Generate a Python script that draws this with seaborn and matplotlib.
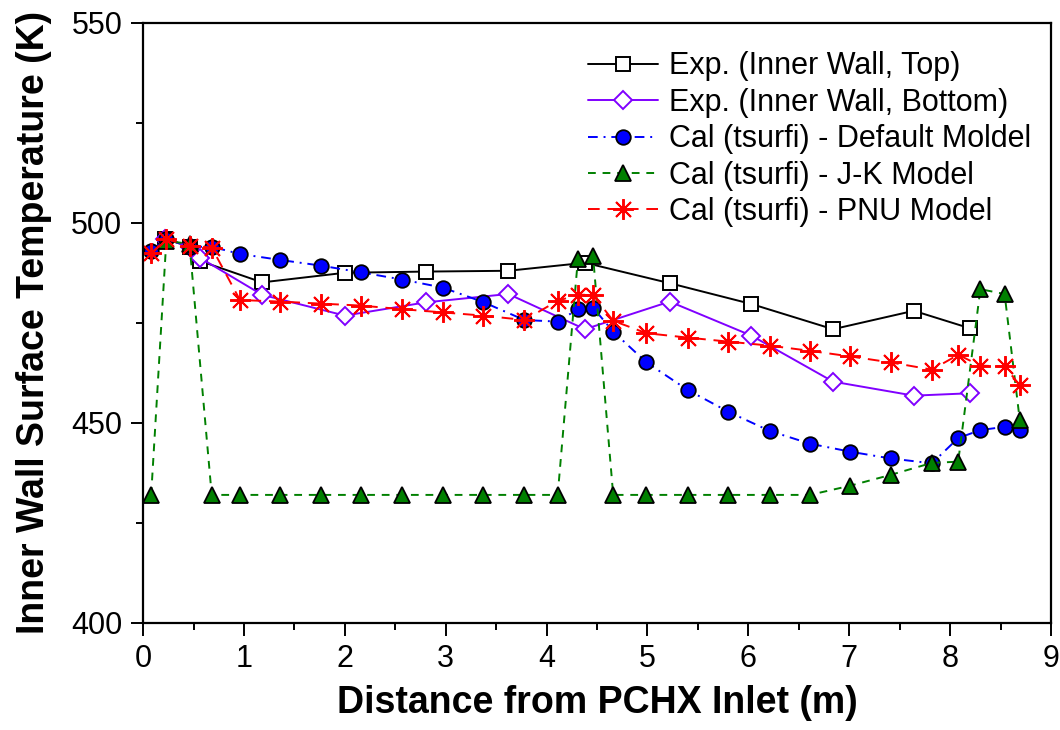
import matplotlib
matplotlib.use("Agg")
import matplotlib.pyplot as plt
import seaborn as sns
import numpy as np
from matplotlib.ticker import MultipleLocator

sns.set_theme(style="ticks")
plt.rcParams['font.family'] = ['Liberation Sans', 'DejaVu Sans']
plt.rcParams['text.color'] = 'black'
plt.rcParams['axes.labelcolor'] = 'black'
plt.rcParams['xtick.color'] = 'black'
plt.rcParams['ytick.color'] = 'black'

# Experimental positions (m)
exp_x = [0.22, 0.46, 0.56, 1.18, 2.0, 2.8, 3.62, 4.38, 5.22, 6.03, 6.84, 7.64, 8.2]
exp_top = [496, 494, 490.5, 485.1, 487.5, 487.8, 488.0, 490.0, 484.9, 479.7, 473.4, 478.0, 473.6]
exp_bottom = [496, 494, 491.3, 482.0, 476.8, 480.1, 482.2, 473.4, 480.3, 471.8, 460.3, 456.8, 457.4]

# Calculation positions (m)
cal_x = [0.08, 0.23, 0.46, 0.68, 0.96, 1.36, 1.76, 2.16, 2.57, 2.97, 3.37, 3.78,
         4.11, 4.31, 4.46, 4.66, 4.99, 5.40, 5.80, 6.21, 6.61, 7.01, 7.41, 7.82,
         8.08, 8.30, 8.54, 8.69]
cal_default = [493, 496, 494, 494, 492.2, 490.7, 489.3, 487.6, 485.8, 483.8, 480.2, 475.7,
               475.3, 478.4, 478.8, 472.8, 465.1, 458.2, 452.8, 448.0, 444.8, 442.8, 441.1, 439.9,
               446.2, 448.2, 449.0, 448.3]
cal_jk = [432, 495.5, 494.7, 432, 432, 432, 432, 432, 432, 432, 432, 432,
          432, 490.9, 491.8, 432, 432, 432, 432, 432, 432, 434.3, 437.0, 440.0,
          440.3, 483.4, 482.2, 450.8]
cal_pnu = [492.4, 495.9, 494.3, 493.8, 480.7, 480.3, 479.8, 479.3, 478.4, 477.6, 476.8, 475.7,
           480.5, 482.0, 482.0, 475.5, 472.4, 471.3, 470.3, 469.3, 468.0, 466.6, 465.1, 463.3,
           467.0, 464.3, 464.1, 459.4]

labels = ["Exp. (Inner Wall, Top)", "Exp. (Inner Wall, Bottom)",
          "Cal (tsurfi) - Default Moldel", "Cal (tsurfi) - J-K Model",
          "Cal (tsurfi) - PNU Model"]

fig, ax = plt.subplots(figsize=(10.6, 7.3), dpi=100)
fig.subplots_adjust(left=0.135, right=0.9915, top=0.969, bottom=0.1466)

lw = 1.4
sns.lineplot(x=exp_x, y=exp_top, ax=ax, sort=False, errorbar=None, color="black",
             linewidth=lw, marker="s", markersize=9.5, markerfacecolor="white",
             markeredgecolor="black", markeredgewidth=1.4, label=labels[0])
sns.lineplot(x=exp_x, y=exp_bottom, ax=ax, sort=False, errorbar=None, color="#8000ff",
             linewidth=lw, marker="D", markersize=9.5, markerfacecolor="white",
             markeredgecolor="#8000ff", markeredgewidth=1.4, label=labels[1])
sns.lineplot(x=cal_x, y=cal_default, ax=ax, sort=False, errorbar=None, color="#0000ff",
             linewidth=lw, linestyle=(0, (5, 3, 1, 3)), marker="o", markersize=10.5,
             markerfacecolor="#0000ff", markeredgecolor="black", markeredgewidth=1.3,
             label=labels[2])
sns.lineplot(x=cal_x, y=cal_jk, ax=ax, sort=False, errorbar=None, color="#008000",
             linewidth=lw, linestyle=(0, (4, 3.5)), marker="^", markersize=11.5,
             markerfacecolor="#008000", markeredgecolor="black", markeredgewidth=1.3,
             label=labels[3])
sns.lineplot(x=cal_x, y=cal_pnu, ax=ax, sort=False, errorbar=None, color="#ff0000",
             linewidth=lw, linestyle=(0, (6, 4)), marker=(8, 2, 0), markersize=15,
             markerfacecolor="#ff0000", markeredgecolor="#ff0000", markeredgewidth=1.4,
             label=labels[4])

ax.set_xlim(0, 9)
ax.set_ylim(400, 550)
ax.xaxis.set_major_locator(MultipleLocator(1))
ax.xaxis.set_minor_locator(MultipleLocator(0.5))
ax.yaxis.set_major_locator(MultipleLocator(50))
ax.yaxis.set_minor_locator(MultipleLocator(25))
ax.tick_params(which="major", direction="out", length=9, width=1.4, labelsize=22,
               colors="black", top=False, right=False, pad=6)
ax.tick_params(which="minor", direction="out", length=5, width=1.4, colors="black",
               top=False, right=False)
for s in ax.spines.values():
    s.set_visible(True)
    s.set_linewidth(1.6)
    s.set_color("black")

label_font = dict(family=['Liberation Sans', 'DejaVu Sans'],
                  fontsize=27, fontweight="bold", color="black")
ax.set_xlabel("Distance from PCHX Inlet (m)", labelpad=8, **label_font)
ax.set_ylabel("Inner Wall Surface Temperature (K)", labelpad=14, **label_font)

leg = ax.legend(loc="upper right", frameon=False, fontsize=22, handlelength=2.3,
                labelspacing=0.21, handletextpad=0.35, borderaxespad=0.25,
                bbox_to_anchor=(1.0, 0.985), labelcolor="black")

fig.savefig("out.png", dpi=100)
